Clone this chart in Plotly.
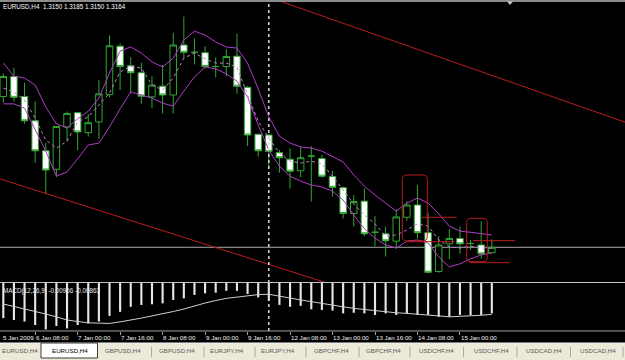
import plotly.graph_objects as go

# ---------------- data ----------------
bar_index = list(range(47))

open_ = [1.3556, 1.3608, 1.3556, 1.3493, 1.3415, 1.3367, 1.3477, 1.3514, 1.3462, 1.3490,
         1.3561, 1.3687, 1.3636, 1.3618, 1.3555, 1.3583, 1.3560, 1.3690, 1.3671, 1.3670,
         1.3634, 1.3634, 1.3661, 1.3580, 1.3458, 1.3456, 1.3410, 1.3393, 1.3363, 1.3401,
         1.3395, 1.3348, 1.3319, 1.3252, 1.3284, 1.3203, 1.3199, 1.3180, 1.3242, 1.3274,
         1.3202, 1.3101, 1.3173, 1.3187, 1.3174, 1.3170, 1.3150]
high = [1.3616, 1.3631, 1.3592, 1.3543, 1.3435, 1.3479, 1.3517, 1.3516, 1.3511, 1.3599,
        1.3715, 1.3694, 1.3658, 1.3644, 1.3609, 1.3638, 1.3722, 1.3764, 1.3707, 1.3687,
        1.3658, 1.3679, 1.3720, 1.3583, 1.3458, 1.3458, 1.3417, 1.3421, 1.3426, 1.3427,
        1.3404, 1.3363, 1.3322, 1.3300, 1.3317, 1.3245, 1.3218, 1.3263, 1.3283, 1.3326,
        1.3252, 1.3193, 1.3211, 1.3218, 1.3183, 1.3231, 1.3185]
low = [1.3540, 1.3543, 1.3485, 1.3384, 1.3304, 1.3347, 1.3439, 1.3416, 1.3452, 1.3446,
       1.3554, 1.3573, 1.3564, 1.3537, 1.3526, 1.3512, 1.3512, 1.3655, 1.3640, 1.3629,
       1.3606, 1.3609, 1.3563, 1.3427, 1.3400, 1.3369, 1.3358, 1.3317, 1.3346, 1.3283,
       1.3345, 1.3296, 1.3239, 1.3218, 1.3193, 1.3167, 1.3140, 1.3161, 1.3233, 1.3187,
       1.3096, 1.3098, 1.3133, 1.3147, 1.3157, 1.3135, 1.3150]
close = [1.3608, 1.3554, 1.3493, 1.3415, 1.3365, 1.3478, 1.3512, 1.3464, 1.3488, 1.3563,
         1.3688, 1.3634, 1.3618, 1.3557, 1.3586, 1.3560, 1.3690, 1.3671, 1.3671, 1.3634,
         1.3634, 1.3660, 1.3583, 1.3456, 1.3415, 1.3413, 1.3397, 1.3362, 1.3397, 1.3401,
         1.3349, 1.3320, 1.3252, 1.3283, 1.3199, 1.3203, 1.3181, 1.3243, 1.3274, 1.3202,
         1.3099, 1.3170, 1.3187, 1.3173, 1.3174, 1.3147, 1.3164]

band_upper = [1.3643, 1.3609, 1.3604, 1.3586, 1.3529, 1.3485, 1.3474, 1.3498, 1.3518, 1.3552,
              1.3617, 1.3674, 1.3685, 1.3669, 1.3646, 1.3633, 1.3656, 1.3703, 1.3726, 1.3716,
              1.3698, 1.3685, 1.3682, 1.3643, 1.3576, 1.3503, 1.3453, 1.3435, 1.3425, 1.3422,
              1.3414, 1.3401, 1.3386, 1.3352, 1.3323, 1.3300, 1.3279, 1.3258, 1.3279, 1.3292,
              1.3279, 1.3251, 1.3219, 1.3206, 1.3203, 1.3199, 1.3196]
band_lower = [1.3537, 1.3537, 1.3526, 1.3472, 1.3414, 1.3349, 1.3360, 1.3394, 1.3430, 1.3435,
              1.3477, 1.3524, 1.3568, 1.3560, 1.3552, 1.3539, 1.3531, 1.3570, 1.3607, 1.3633,
              1.3628, 1.3615, 1.3596, 1.3555, 1.3482, 1.3417, 1.3375, 1.3349, 1.3336, 1.3326,
              1.3321, 1.3310, 1.3287, 1.3248, 1.3212, 1.3188, 1.3170, 1.3162, 1.3180, 1.3183,
              1.3175, 1.3139, 1.3113, 1.3121, 1.3134, 1.3144, 1.3149]
band_mid = [1.3578, 1.3568, 1.3547, 1.3500, 1.3443, 1.3422, 1.3440, 1.3490, 1.3503, 1.3534,
            1.3565, 1.3620, 1.3635, 1.3630, 1.3586, 1.3573, 1.3604, 1.3656, 1.3669, 1.3654,
            1.3643, 1.3643, 1.3633, 1.3560, 1.3492, 1.3448, 1.3409, 1.3388, 1.3383, 1.3388,
            1.3381, 1.3349, 1.3313, 1.3277, 1.3248, 1.3225, 1.3193, 1.3196, 1.3209, 1.3225,
            1.3219, 1.3183, 1.3165, 1.3162, 1.3167, 1.3162, 1.3162]

macd_main = [-0.0112, -0.0118, -0.0123, -0.0134, -0.0148, -0.0137, -0.0145, -0.0134, -0.0129, -0.0123,
             -0.0105, -0.0092, -0.0076, -0.0070, -0.0068, -0.0065, -0.0054, -0.0049, -0.0038, -0.0033,
             -0.0031, -0.0025, -0.0025, -0.0035, -0.0046, -0.0057, -0.0070, -0.0076, -0.0073, -0.0084,
             -0.0086, -0.0088, -0.0097, -0.0095, -0.0097, -0.0102, -0.0097, -0.0102, -0.0099, -0.0102,
             -0.0102, -0.0108, -0.0108, -0.0102, -0.0102, -0.0102, -0.0097]
macd_signal = [-0.0067, -0.0075, -0.0081, -0.0089, -0.0099, -0.0108, -0.0118, -0.0123, -0.0127, -0.0128,
               -0.0129, -0.0124, -0.0119, -0.0112, -0.0105, -0.0099, -0.0091, -0.0083, -0.0073, -0.0064,
               -0.0056, -0.0049, -0.0045, -0.0040, -0.0037, -0.0036, -0.0041, -0.0048, -0.0054, -0.0060,
               -0.0065, -0.0070, -0.0076, -0.0081, -0.0085, -0.0089, -0.0093, -0.0095, -0.0097, -0.0099,
               -0.0102, -0.0105, -0.0108, -0.0107, -0.0105, -0.0103, -0.0100]

bid_price = 1.3164
separator_bar = 25

# drawn objects (bar index, price)
trend_upper = ([24, 59], [1.3824, 1.3485])
trend_lower = ([-1, 32], [1.3348, 1.3058])
level_lines = [((39.4, 42.7), 1.3242), ((38.0, 42.5), 1.31786),
               ((44.2, 48.2), 1.31812), ((43.9, 47.7), 1.3124)]
boxes = [((37.57, 39.92), (1.31804, 1.3352)), ((43.63, 45.57), (1.31266, 1.32394))]

time_label_bars = [3, 7, 11, 15, 19, 23, 27, 31, 35, 39, 43]
time_labels = ["6 Jan 08:00", "7 Jan 00:00", "7 Jan 16:00", "8 Jan 08:00", "9 Jan 00:00",
               "9 Jan 16:00", "12 Jan 08:00", "13 Jan 00:00", "13 Jan 16:00", "14 Jan 08:00",
               "15 Jan 00:00"]
first_label = "5 Jan 2009"

tab_names = ["EURUSD,H4", "EURUSD,H4", "GBPUSD,H4", "GBPUSD,H4", "EURJPY,H4", "EURJPY,H4",
             "GBPCHF,H4", "GBPCHF,H4", "USDCHF,H4", "USDCHF,H4", "USDCAD,H4", "USDCAD,H4"]
active_tab = 1

header_text = "EURUSD,H4  1.3150 1.3185 1.3150 1.3164"
macd_text = "MACD(12,26,9) -0.00966 -0.00863"

# ---------------- figure ----------------
W, H = 625, 360
GREEN = "#2FA82F"
PURPLE = "#B03CC8"
RED = "#B81E1E"
FONT = "Liberation Sans"

fig = go.Figure()

fig.add_trace(go.Scatter(x=bar_index, y=band_upper, mode="lines",
                         line=dict(color=PURPLE, width=1), hoverinfo="skip"))
fig.add_trace(go.Scatter(x=bar_index, y=band_lower, mode="lines",
                         line=dict(color=PURPLE, width=1), hoverinfo="skip"))
fig.add_trace(go.Scatter(x=bar_index, y=band_mid, mode="lines",
                         line=dict(color="#C77AD6", width=1, dash="dot"), hoverinfo="skip"))

fig.add_trace(go.Candlestick(
    x=bar_index, open=open_, high=high, low=low, close=close,
    increasing=dict(line=dict(color=GREEN, width=1), fillcolor="#000000"),
    decreasing=dict(line=dict(color=GREEN, width=1), fillcolor="#FFFFFF"),
    whiskerwidth=0, hoverinfo="skip"))

fig.add_trace(go.Scatter(x=trend_upper[0], y=trend_upper[1], mode="lines",
                         line=dict(color=RED, width=1), hoverinfo="skip"))
fig.add_trace(go.Scatter(x=trend_lower[0], y=trend_lower[1], mode="lines",
                         line=dict(color=RED, width=1), hoverinfo="skip"))
for (xs, p) in level_lines:
    fig.add_trace(go.Scatter(x=list(xs), y=[p, p], mode="lines",
                             line=dict(color=RED, width=1), hoverinfo="skip"))

fig.add_trace(go.Bar(x=bar_index, y=macd_main, width=0.2, yaxis="y2",
                     marker=dict(color="#E6E6E6", line=dict(width=0)), hoverinfo="skip"))
fig.add_trace(go.Scatter(x=bar_index, y=macd_signal, yaxis="y2", mode="lines",
                         line=dict(color="#CFCFCF", width=1), hoverinfo="skip"))

shapes = []
# top border
shapes.append(dict(type="rect", xref="paper", yref="paper", x0=0, x1=1, y0=0.9944, y1=1,
                   fillcolor="#8C8C8C", line=dict(width=0), layer="above"))
# bid line
shapes.append(dict(type="line", xref="paper", yref="y", x0=0, x1=1, y0=bid_price, y1=bid_price,
                   line=dict(color="#A8A8A8", width=1), layer="below"))
# rounded boxes
for (xa, xb), (pa, pb) in boxes:
    rx, ry = 0.4, 0.0011
    path = (f"M {xa+rx},{pb} L {xb-rx},{pb} Q {xb},{pb} {xb},{pb-ry} "
            f"L {xb},{pa+ry} Q {xb},{pa} {xb-rx},{pa} L {xa+rx},{pa} "
            f"Q {xa},{pa} {xa},{pa+ry} L {xa},{pb-ry} Q {xa},{pb} {xa+rx},{pb} Z")
    shapes.append(dict(type="path", xref="x", yref="y", path=path,
                       line=dict(color=RED, width=1)))
# vertical dotted separator
shapes.append(dict(type="line", xref="x", yref="paper", x0=separator_bar, x1=separator_bar,
                   y0=0.0806, y1=0.9944, line=dict(color="#D8D8D8", width=1.5, dash="dot")))
# window separators
shapes.append(dict(type="line", xref="paper", yref="paper", x0=0, x1=1, y0=0.2153, y1=0.2153,
                   line=dict(color="#C8C8C8", width=1)))
shapes.append(dict(type="line", xref="paper", yref="paper", x0=0, x1=1, y0=0.0806, y1=0.0806,
                   line=dict(color="#A0A0A0", width=1)))
# tab bar
shapes.append(dict(type="rect", xref="paper", yref="paper", x0=0, x1=1, y0=0, y1=0.0472,
                   fillcolor="#ECE9D8", line=dict(width=0)))
shapes.append(dict(type="line", xref="paper", yref="paper", x0=0, x1=1, y0=0.0472, y1=0.0472,
                   line=dict(color="#F4F4F4", width=1)))
shapes.append(dict(type="rect", xref="paper", yref="paper", x0=41 / W, x1=97.5 / W,
                   y0=2 / H, y1=0.0472, fillcolor="#FFFFFF", line=dict(color="#3A3A3A", width=1)))
tab_seps = [151.5, 204, 255, 306, 359, 410, 463.5, 517, 570.5, 623]
for s in tab_seps:
    shapes.append(dict(type="line", xref="paper", yref="paper", x0=s / W, x1=s / W,
                       y0=3 / H, y1=13 / H, line=dict(color="#A8A8A8", width=1)))
# chart shift marker
shapes.append(dict(type="path", xref="paper", yref="paper",
                   path=f"M {507/W},{1-1.5/H} L {513/W},{1-1.5/H} L {510/W},{1-5/H} Z",
                   fillcolor="#C8C8C8", line=dict(width=0)))

annotations = []
annotations.append(dict(text=header_text, xref="paper", yref="paper", x=0.5 / W, y=1 - 6 / H,
                        xanchor="left", yanchor="middle", showarrow=False,
                        font=dict(family=FONT, size=6.3, color="#FFFFFF")))
annotations.append(dict(text=macd_text, xref="paper", yref="paper", x=0.5 / W, y=1 - 290.5 / H,
                        xanchor="left", yanchor="middle", showarrow=False,
                        font=dict(family=FONT, size=6.3, color="#E8E8E8")))
for b, t in zip(time_label_bars, time_labels):
    annotations.append(dict(text=t, xref="x", yref="paper", x=b, y=1 - 337 / H, xshift=-1.3,
                            xanchor="left", yanchor="middle", showarrow=False,
                            font=dict(family=FONT, size=6.2, color="#F0F0F0")))
annotations.append(dict(text=first_label, xref="x", yref="paper", x=0, y=1 - 337 / H, xshift=-2.5,
                        xanchor="left", yanchor="middle", showarrow=False,
                        font=dict(family=FONT, size=6.2, color="#F0F0F0")))
tab_centers = [20, 70, 123, 177, 226.5, 278, 331, 384, 436, 491, 544, 597.5]
for i, (c, name) in enumerate(zip(tab_centers, tab_names)):
    annotations.append(dict(text=name, xref="paper", yref="paper", x=c / W, y=1 - 350 / H,
                            xanchor="center", yanchor="middle", showarrow=False,
                            font=dict(family=FONT, size=6.2,
                                      color="#000000" if i == active_tab else "#5A5A5A")))

fig.update_layout(
    width=W, height=H, autosize=False,
    margin=dict(l=0, r=0, t=0, b=0, pad=0),
    paper_bgcolor="#000000", plot_bgcolor="#000000",
    showlegend=False, hovermode=False,
    boxgap=0.39, boxgroupgap=0,
    xaxis=dict(range=[-0.311, 58.54], domain=[0, 1], anchor="y2",
               showgrid=False, zeroline=False, showline=False,
               showticklabels=False, ticks="outside", ticklen=3, tickwidth=1,
               tickcolor="#A0A0A0", tickmode="array", tickvals=time_label_bars,
               rangeslider=dict(visible=False), fixedrange=True),
    yaxis=dict(range=[1.30738, 1.38018], domain=[0.2167, 0.9944], anchor="x",
               showgrid=False, zeroline=False, showline=False, showticklabels=False,
               ticks="", fixedrange=True),
    yaxis2=dict(range=[-0.01531, 0], domain=[0.0806, 0.2139], anchor="x",
                showgrid=False, zeroline=False, showline=False, showticklabels=False,
                ticks="", fixedrange=True),
    shapes=shapes, annotations=annotations,
)

fig.write_html("out.html")
